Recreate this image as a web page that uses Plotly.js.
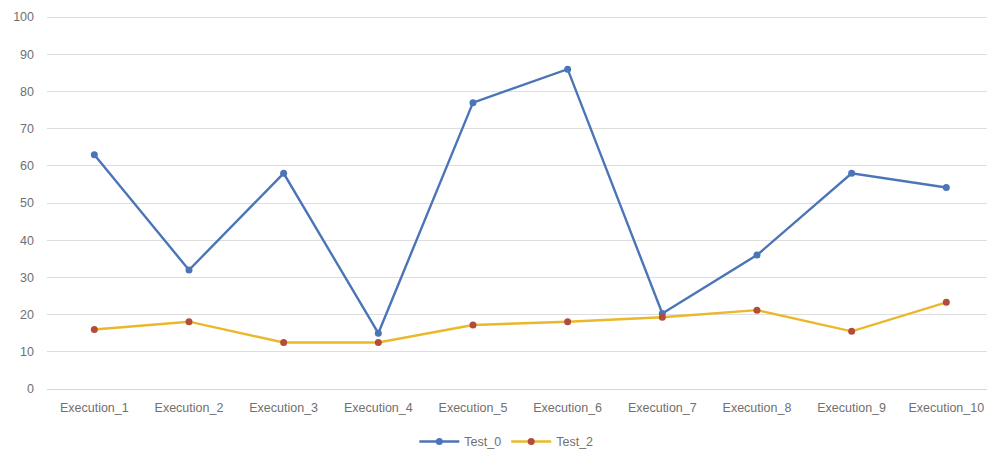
<!DOCTYPE html>
<html>
<head>
<meta charset="utf-8">
<script src="https://cdn.plot.ly/plotly-3.0.1.min.js"></script>
<style>
  html, body { margin: 0; padding: 0; background: #ffffff; }
  #chart { width: 987px; height: 450px; }
</style>
</head>
<body>
<div id="chart"></div>
<script>
// Execution runs along the category axis
const executions = ['Execution_1', 'Execution_2', 'Execution_3', 'Execution_4', 'Execution_5',
                    'Execution_6', 'Execution_7', 'Execution_8', 'Execution_9', 'Execution_10'];

// Values per run for each test
const test0 = [63, 32, 58, 15, 77, 86, 20.3, 36, 58, 54.2];
const test2 = [16, 18.1, 12.5, 12.5, 17.2, 18.1, 19.3, 21.2, 15.5, 23.3];

// Value axis ticks
const yTicks = [0, 10, 20, 30, 40, 50, 60, 70, 80, 90, 100];

const font = { family: 'Liberation Sans, Arial, sans-serif', size: 12.5, color: '#707070' };

const traces = [
  {
    x: executions, y: test0, name: 'Test_0', type: 'scatter', mode: 'lines+markers',
    line: { color: '#4b75b6', width: 2.4 },
    marker: { color: '#4b75b6', size: 7 }
  },
  {
    x: executions, y: test2, name: 'Test_2', type: 'scatter', mode: 'lines+markers',
    line: { color: '#e9b82b', width: 2.4 },
    marker: { color: '#b24d3c', size: 7 }
  }
];

const layout = {
  width: 987, height: 450,
  margin: { l: 47, r: 0, t: 16, b: 61 },
  paper_bgcolor: '#ffffff', plot_bgcolor: '#ffffff',
  font: font,
  showlegend: true,
  legend: {
    orientation: 'h', xref: 'container', yref: 'container',
    x: 0.513, xanchor: 'center', y: 0.018, yanchor: 'middle',
    font: font, itemwidth: 40
  },
  xaxis: {
    type: 'category', range: [-0.5, 9.43],
    showgrid: false, showline: false, zeroline: false,
    ticks: '', ticklabelstandoff: 9, tickfont: font
  },
  yaxis: {
    // a touch of headroom so the gridline at 100 is drawn
    range: [0, 100.3], tickvals: yTicks, ticktext: yTicks.map(String),
    showgrid: true, gridcolor: '#dedede', gridwidth: 1,
    zeroline: true, zerolinecolor: '#d6d6d6', zerolinewidth: 1,
    showline: false, ticks: '', ticklabelstandoff: 12, tickfont: font
  },
  hovermode: false
};

Plotly.newPlot('chart', traces, layout, { staticPlot: true, displayModeBar: false });
</script>
</body>
</html>
